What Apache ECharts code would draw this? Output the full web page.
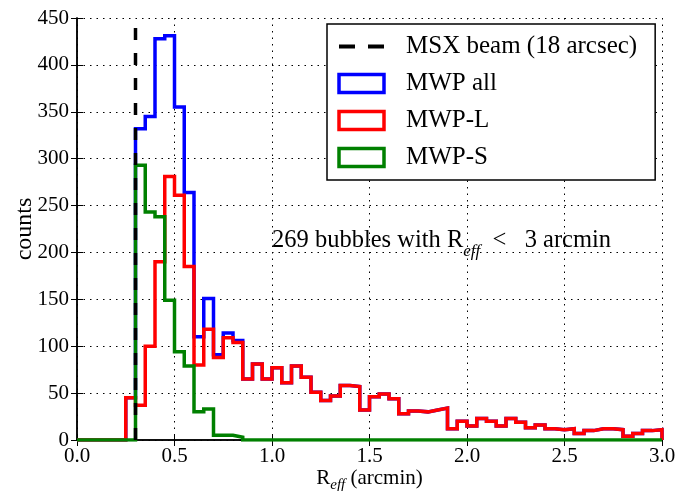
<!DOCTYPE html>
<html>
<head>
<meta charset="utf-8">
<script src="https://cdn.jsdelivr.net/npm/echarts@6/dist/echarts.min.js"></script>
<style>
  html, body { margin: 0; padding: 0; background: #fff; }
  #chart { width: 694px; height: 491px; }
</style>
</head>
<body>
<div id="chart"></div>
<script>
// left edges of the 0.05 arcmin bins
const binEdges = [
  0.00, 0.05, 0.10, 0.15, 0.20, 0.25, 0.30, 0.35, 0.40, 0.45,
  0.50, 0.55, 0.60, 0.65, 0.70, 0.75, 0.80, 0.85, 0.90, 0.95,
  1.00, 1.05, 1.10, 1.15, 1.20, 1.25, 1.30, 1.35, 1.40, 1.45,
  1.50, 1.55, 1.60, 1.65, 1.70, 1.75, 1.80, 1.85, 1.90, 1.95,
  2.00, 2.05, 2.10, 2.15, 2.20, 2.25, 2.30, 2.35, 2.40, 2.45,
  2.50, 2.55, 2.60, 2.65, 2.70, 2.75, 2.80, 2.85, 2.90, 2.95
]
const lastEdge = 3.0

const mwpAll = [
  0, 0, 0, 0, 0, 45, 332, 345, 428, 431,
  355, 264, 110, 151, 91, 114, 106, 65, 81, 65,
  77, 61, 79, 67, 51, 42, 47, 58, 57, 32,
  46, 49, 44, 28, 31, 30, 32, 34, 12, 20,
  15, 23, 20, 15, 23, 19, 13, 16, 12, 11,
  12, 7, 10, 12, 12, 11, 4, 7, 10, 11
]
const mwpL = [
  0, 0, 0, 0, 0, 45, 37, 100, 190, 281,
  261, 185, 80, 118, 88, 109, 104, 65, 81, 65,
  77, 61, 79, 67, 51, 42, 47, 58, 57, 32,
  46, 49, 44, 28, 31, 30, 32, 34, 12, 20,
  15, 23, 20, 15, 23, 19, 13, 16, 12, 11,
  12, 7, 10, 12, 12, 11, 4, 7, 10, 11
]
const mwpS = [
  0, 0, 0, 0, 0, 0, 293, 243, 238, 149,
  94, 79, 30, 33, 5, 5, 3, 0, 0, 0,
  0, 0, 0, 0, 0, 0, 0, 0, 0, 0,
  0, 0, 0, 0, 0, 0, 0, 0, 0, 0,
  0, 0, 0, 0, 0, 0, 0, 0, 0, 0,
  0, 0, 0, 0, 0, 0, 0, 0, 0, 0
]
const msxBeam = 0.3
const yMax = 450

const FONT = '"Liberation Serif", "DejaVu Serif", serif'
const NOFILL = 'rgba(0,0,0,0)'

function histData(counts) {
  const pts = binEdges.map((x, i) => [x, counts[i]])
  pts.push([lastEdge, counts[counts.length - 1]])
  pts.push([lastEdge, 0])
  return pts
}

function histSeries(name, counts, color) {
  return {
    name: name,
    type: 'line',
    step: 'end',
    symbol: 'none',
    data: histData(counts),
    lineStyle: { color: color, width: 3.5, join: 'miter', cap: 'butt' },
    itemStyle: { color: color },
    silent: true
  }
}

function legendBox(name, color) {
  return {
    name: name,
    icon: 'rect',
    itemStyle: { color: NOFILL, borderColor: color, borderWidth: 3.5 }
  }
}

const chart = echarts.init(document.getElementById('chart'), null, { renderer: 'canvas' })

const option = {
  animation: false,
  backgroundColor: '#fff',
  grid: { left: 77, right: 32, top: 18, bottom: 51, outerBoundsMode: 'none', containLabel: false },
  xAxis: [
    {
      type: 'value',
      min: 0,
      max: 3,
      interval: 0.5,
      name: '{r|R}{s|eff}{r| (arcmin)}',
      nameLocation: 'middle',
      nameGap: 26,
      nameMoveOverlap: false,
      nameTextStyle: {
        rich: {
          r: { fontFamily: FONT, fontSize: 21, color: '#000', lineHeight: 24 },
          s: { fontFamily: FONT, fontSize: 15, fontStyle: 'italic', color: '#000', verticalAlign: 'bottom', lineHeight: 24, padding: [0, 0, -3, 0] }
        }
      },
      axisLine: { show: true, lineStyle: { color: '#000', width: 1.5 } },
      axisTick: { show: true, inside: true, length: 6, lineStyle: { color: '#000', width: 1 } },
      axisLabel: {
        fontFamily: FONT, fontSize: 21, color: '#000', margin: 6,
        formatter: v => v.toFixed(1)
      },
      splitLine: { show: true, lineStyle: { color: '#000', width: 1, type: [1.5, 5] } }
    },
    {
      type: 'value',
      position: 'top',
      min: 0,
      max: 3,
      interval: 0.5,
      axisLine: { show: true, lineStyle: { color: '#000', width: 1.5 } },
      axisTick: { show: true, inside: true, length: 6, lineStyle: { color: '#000', width: 1 } },
      axisLabel: { show: false },
      splitLine: { show: false }
    }
  ],
  yAxis: [
    {
      type: 'value',
      min: 0,
      max: yMax,
      interval: 50,
      name: 'counts',
      nameLocation: 'middle',
      nameGap: 40,
      nameMoveOverlap: false,
      nameTextStyle: { fontFamily: FONT, fontSize: 24, color: '#000' },
      axisLine: { show: true, lineStyle: { color: '#000', width: 1.5 } },
      axisTick: { show: true, inside: true, length: 6, lineStyle: { color: '#000', width: 1 } },
      axisLabel: { fontFamily: FONT, fontSize: 21, color: '#000', margin: 8 },
      splitLine: { show: true, lineStyle: { color: '#000', width: 1, type: [1.5, 5] } }
    },
    {
      type: 'value',
      position: 'right',
      min: 0,
      max: yMax,
      interval: 50,
      axisLine: { show: true, lineStyle: { color: '#000', width: 1.5 } },
      axisTick: { show: true, inside: true, length: 6, lineStyle: { color: '#000', width: 1 } },
      axisLabel: { show: false },
      splitLine: { show: false }
    }
  ],
  legend: {
    orient: 'vertical',
    left: 327,
    top: 24,
    padding: [10, 18, 10, 10],
    itemGap: 12,
    itemWidth: 45,
    itemHeight: 18,
    selectedMode: false,
    backgroundColor: '#fff',
    borderColor: '#000',
    borderWidth: 1.5,
    borderRadius: 0,
    textStyle: { fontFamily: FONT, fontSize: 25, color: '#000', lineHeight: 25, padding: [0, 0, 0, 17] },
    data: [
      {
        name: 'MSX beam (18 arcsec)',
        lineStyle: { width: 4, type: [16, 13] },
        itemStyle: { color: NOFILL, borderColor: NOFILL, borderWidth: 0, opacity: 0 }
      },
      legendBox('MWP all', '#0000ff'),
      legendBox('MWP-L', '#ff0000'),
      legendBox('MWP-S', '#008000')
    ]
  },
  graphic: [
    {
      type: 'text',
      left: 272,
      top: 228,
      style: {
        text: '{a|269 bubbles with R}{s|eff}{a|  <   3 arcmin}',
        rich: {
          a: { fontFamily: FONT, fontSize: 24.5, fill: '#000', lineHeight: 28 },
          s: { fontFamily: FONT, fontSize: 17, fontStyle: 'italic', fill: '#000', verticalAlign: 'bottom', lineHeight: 28, padding: [0, 0, -6, 0] }
        }
      }
    }
  ],
  series: [
    histSeries('MWP all', mwpAll, '#0000ff'),
    histSeries('MWP-L', mwpL, '#ff0000'),
    histSeries('MWP-S', mwpS, '#008000'),
    {
      name: 'MSX beam (18 arcsec)',
      type: 'line',
      symbol: 'none',
      silent: true,
      data: [[msxBeam, 0], [msxBeam, yMax]],
      lineStyle: { color: '#000', width: 3.5, type: [12, 13], cap: 'butt' },
      itemStyle: { color: '#000' }
    }
  ]
}

chart.setOption(option)
</script>
</body>
</html>
